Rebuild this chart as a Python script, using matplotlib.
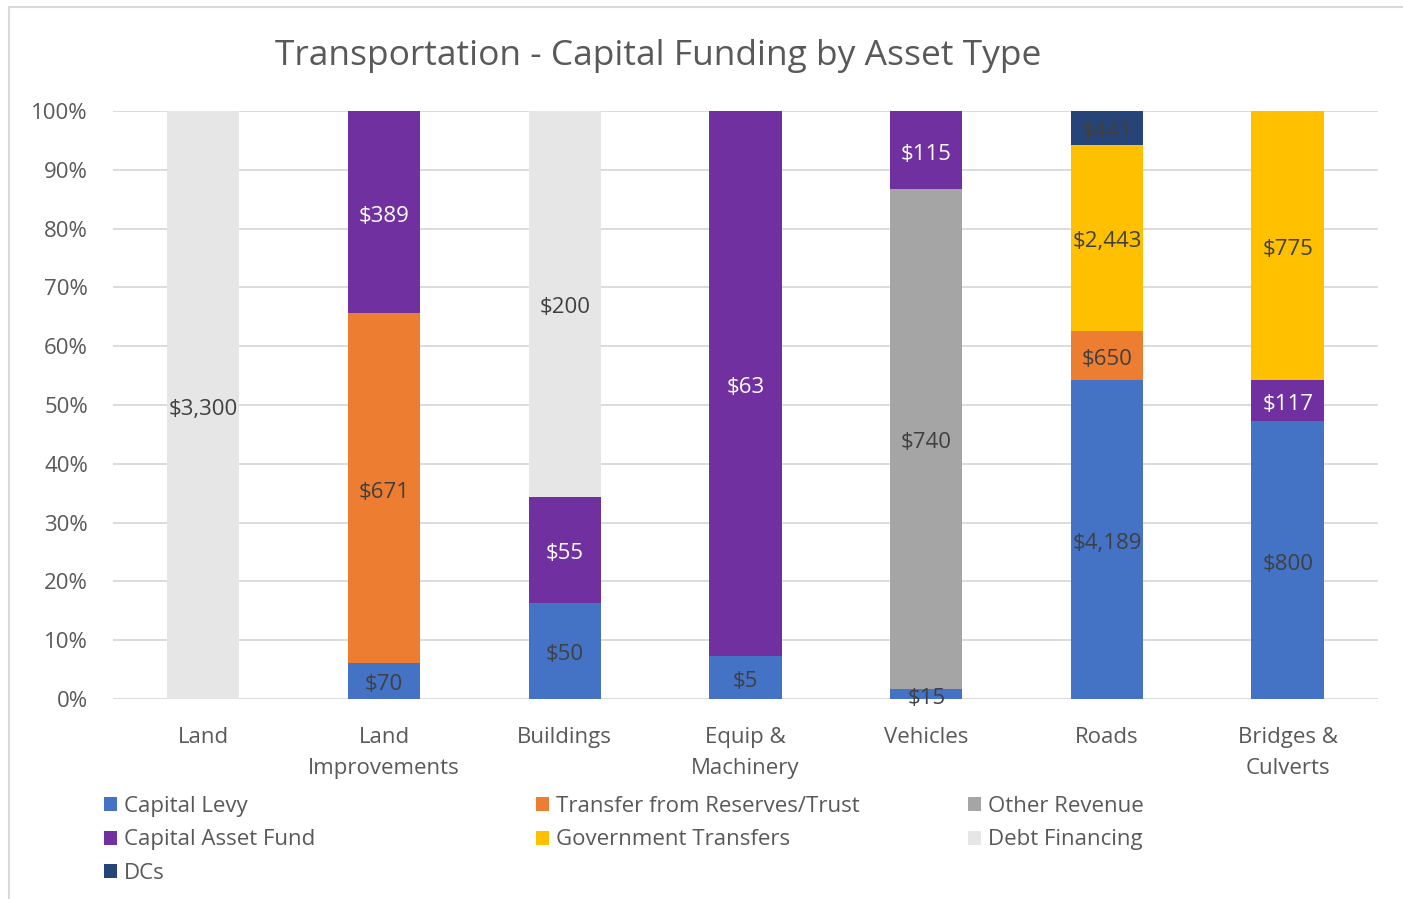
import matplotlib

matplotlib.use("Agg")
import matplotlib.pyplot as plt  # noqa: E402
import numpy as np  # noqa: E402
from matplotlib.patches import Patch, Rectangle  # noqa: E402

plt.rcParams["font.family"] = ["Open Sans", "DejaVu Sans"]

categories = [
    "Land",
    "Land\nImprovements",
    "Buildings",
    "Equip &\nMachinery",
    "Vehicles",
    "Roads",
    "Bridges &\nCulverts",
]

# funding amounts by source, one value per category (0 = none)
capital_levy = [0, 70, 50, 5, 15, 4189, 800]
transfer_reserves = [0, 671, 0, 0, 0, 650, 0]
other_revenue = [0, 0, 0, 0, 740, 0, 0]
capital_asset_fund = [0, 389, 55, 63, 115, 0, 117]
government_transfers = [0, 0, 0, 0, 0, 2443, 775]
debt_financing = [3300, 0, 200, 0, 0, 0, 0]
dcs = [0, 0, 0, 0, 0, 441, 0]

series_names = [
    "Capital Levy",
    "Transfer from Reserves/Trust",
    "Other Revenue",
    "Capital Asset Fund",
    "Government Transfers",
    "Debt Financing",
    "DCs",
]
series_values = [
    capital_levy,
    transfer_reserves,
    other_revenue,
    capital_asset_fund,
    government_transfers,
    debt_financing,
    dcs,
]
colors = ["#4472C4", "#ED7D31", "#A5A5A5", "#7030A0", "#FFC000", "#E6E6E6", "#264478"]
label_colors = ["#404040", "#404040", "#404040", "white", "#404040", "#404040", "#404040"]

data = np.array(series_values, dtype=float)
totals = data.sum(axis=0)
shares = data / totals * 100

fig = plt.figure(figsize=(14.03, 8.99), dpi=100)
ax = fig.add_axes([113 / 1403, 1 - 699 / 899, 1265 / 1403, 588 / 899])

x = np.arange(len(categories))
bottom = np.zeros(len(categories))
for name, vals, pct, col, lcol in zip(series_names, data, shares, colors, label_colors):
    ax.bar(x, pct, 0.4, bottom=bottom, color=col, label=name, zorder=2)
    for xi, v, p, b in zip(x, vals, pct, bottom):
        if v > 0:
            ax.annotate(f"${v:,.0f}", (xi, b + p / 2), xytext=(0, -3),
                        textcoords="offset points", ha="center", va="center",
                        fontsize=16, color=lcol, zorder=3)
    bottom += pct

ax.set_xlim(-0.5, len(categories) - 0.5)
ax.set_ylim(0, 100)
ax.set_yticks(np.arange(0, 101, 10))
ax.set_yticklabels([f"{t}%" for t in range(0, 101, 10)])
ax.set_xticks(x)
ax.set_xticklabels(categories, linespacing=1.62)
ax.tick_params(axis="both", length=0, labelsize=16, colors="#595959")
ax.tick_params(axis="x", pad=20)
ax.tick_params(axis="y", pad=18)
ax.grid(axis="y", color="#D9D9D9", linewidth=1.3, zorder=0)
ax.set_axisbelow(True)
for s in ax.spines.values():
    s.set_visible(False)

fig.text(658 / 1403, 1 - 56 / 899, "Transportation - Capital Funding by Asset Type",
         ha="center", va="center", fontsize=25.5, color="#595959")

# legend: three columns placed like the original (row-major order)
handles = [Patch(facecolor=c, edgecolor="none") for c in colors]
columns = [[0, 3, 6], [1, 4], [2, 5]]
col_x = [104, 536, 968]
for idx, cx in zip(columns, col_x):
    fig.legend([handles[i] for i in idx], [series_names[i] for i in idx],
               loc="upper left", bbox_to_anchor=(cx / 1403, 1 - 796 / 899),
               frameon=False, fontsize=16, labelcolor="#595959",
               handlelength=0.6, handleheight=0.6, handletextpad=0.3,
               labelspacing=0.56, borderaxespad=0, borderpad=0)

# chart area border (top and left visible)
fig.patches.append(Rectangle((9 / 1403, -0.1), 1.2, 1 - 7 / 899 + 0.1,
                             transform=fig.transFigure, fill=False,
                             edgecolor="#D9D9D9", linewidth=1.5))

fig.savefig("out.png", dpi=100)
